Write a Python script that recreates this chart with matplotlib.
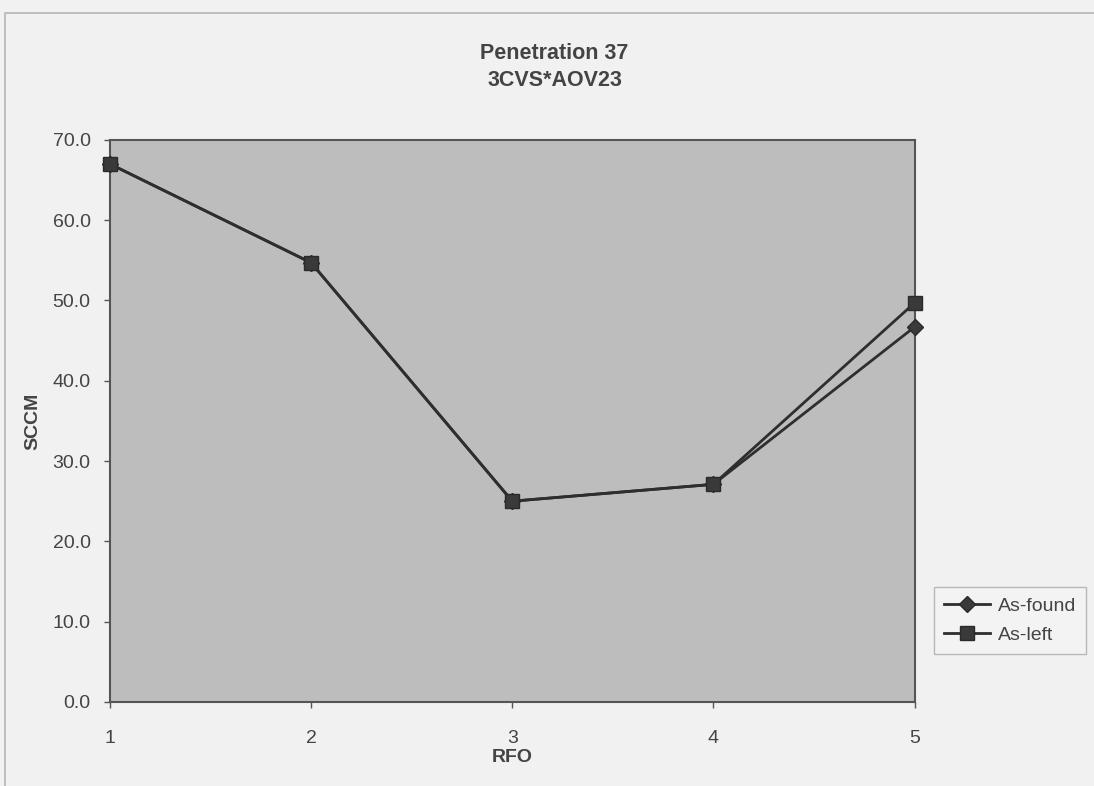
import matplotlib
matplotlib.use("Agg")
import matplotlib.pyplot as plt
from matplotlib.patches import Rectangle

# Data
rfo = [1, 2, 3, 4, 5]
as_found = [67.0, 54.7, 25.0, 27.1, 46.7]
as_left = [67.0, 54.7, 25.0, 27.1, 49.7]
y_ticks = [0, 10, 20, 30, 40, 50, 60, 70]

plt.rcParams['font.family'] = ['Liberation Sans', 'DejaVu Sans']

fig = plt.figure(figsize=(10.94, 7.86), dpi=100)
fig.patch.set_facecolor("#f1f1f1")

# outer chart frame
fig.patches.append(Rectangle((0.005, -0.05), 1.2, 1.0335, transform=fig.transFigure,
                             fill=False, edgecolor="#b5b5b5", linewidth=1.2))

ax = fig.add_axes([0.1005, 0.107, 0.7355, 0.715])
ax.set_facecolor("#bdbdbd")

line_col = "#2e2e2e"
ax.plot(rfo, as_found, color=line_col, linewidth=2, marker="D",
        markersize=8, markerfacecolor="#3a3a3a", markeredgecolor="#2a2a2a",
        label="As-found", clip_on=False, zorder=3)
ax.plot(rfo, as_left, color=line_col, linewidth=2, marker="s",
        markersize=10, markerfacecolor="#3a3a3a", markeredgecolor="#2a2a2a",
        label="As-left", clip_on=False, zorder=4)

ax.set_xlim(1, 5)
ax.set_ylim(0, 70)
ax.set_xticks(rfo)
ax.set_yticks(y_ticks)
ax.set_yticklabels([f"{v:.1f}" for v in y_ticks])
ax.tick_params(axis="both", direction="out", length=4, width=1,
               colors="#555555", labelcolor="#444444", labelsize=14)
ax.tick_params(axis="y", pad=10)
ax.tick_params(axis="x", pad=16)

for s in ax.spines.values():
    s.set_color("#555555")
    s.set_linewidth(1.5)

ax.set_xlabel("RFO", fontsize=14, fontweight="bold", color="#444444", labelpad=2)
ax.set_ylabel("SCCM", fontsize=14, fontweight="bold", color="#444444", labelpad=8)

fig.text(0.507, 0.932, "Penetration 37", ha="center", va="center",
         fontsize=15.5, fontweight="bold", color="#444444")
fig.text(0.507, 0.898, "3CVS*AOV23", ha="center", va="center",
         fontsize=15.5, fontweight="bold", color="#444444")

leg = ax.legend(loc="center left", bbox_to_anchor=(1.012, 0.145), frameon=True,
                fancybox=False, fontsize=14, handlelength=2.4, borderpad=0.5,
                labelspacing=0.6, handletextpad=0.4)
leg.get_frame().set_edgecolor("#aaaaaa")
leg.get_frame().set_facecolor("#f4f4f4")
leg.get_frame().set_linewidth(1)
for t in leg.get_texts():
    t.set_color("#444444")

fig.savefig("out.png", dpi=100, facecolor=fig.get_facecolor())
